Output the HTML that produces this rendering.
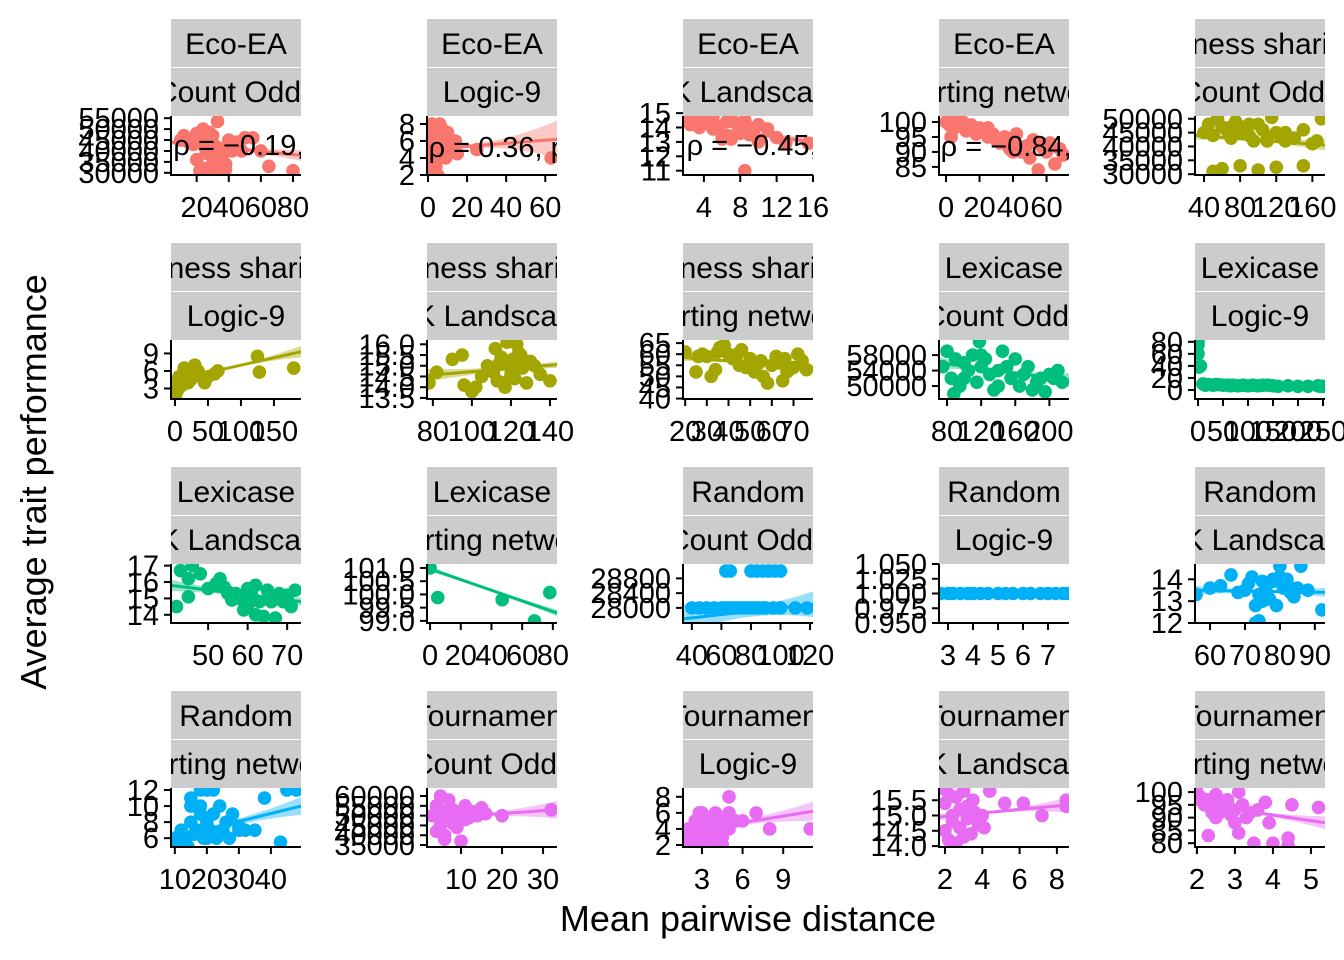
<!DOCTYPE html>
<html><head><meta charset="utf-8"><style>
html,body{margin:0;padding:0;background:#fff;}
svg{display:block;font-family:"Liberation Sans",Arial,sans-serif;}
</style></head><body>
<svg id="chart" width="1344" height="960" viewBox="0 0 1344 960" xmlns="http://www.w3.org/2000/svg">
<text x="748" y="931" font-size="36" text-anchor="middle">Mean pairwise distance</text>
<text transform="translate(46,482) rotate(-90)" font-size="36" text-anchor="middle">Average trait performance</text>
</svg>
<script>
const methods=["Eco-EA","Eco-EA","Eco-EA","Eco-EA","Fitness sharing","Fitness sharing","Fitness sharing","Fitness sharing","Lexicase","Lexicase","Lexicase","Lexicase","Random","Random","Random","Random","Tournament","Tournament","Tournament","Tournament"];
const problems=["Count Odds","Logic-9","NK Landscape","Sorting network","Count Odds","Logic-9","NK Landscape","Sorting network","Count Odds","Logic-9","NK Landscape","Sorting network","Count Odds","Logic-9","NK Landscape","Sorting network","Count Odds","Logic-9","NK Landscape","Sorting network"];
const colors=["#F8766D","#F8766D","#F8766D","#F8766D","#A3A500","#A3A500","#A3A500","#A3A500","#00BF7D","#00BF7D","#00BF7D","#00BF7D","#00B0F6","#00B0F6","#00B0F6","#00B0F6","#E76BF3","#E76BF3","#E76BF3","#E76BF3"];
const xDomains=[[4,85],[-0.5,66],[1.7,16],[-4.2,73.4],[30,174],[-6,191],[77,143.6],[19,79],[70.6,223],[-6,254],[40.6,73.5],[-2,82.7],[34,122],[2.64,7.84],[55.7,92.9],[8.8,49.4],[1.7,33.4],[1.6,11.2],[1.68,8.65],[1.95,5.37]];
const yDomains=[[29000,56000],[2,8.94],[10.7,14.8],[82.3,102],[29700,51000],[1.2,11.3],[13.45,16.2],[39.8,66.4],[46650,61900],[-15,83],[13.5,17.1],[98.92,101.15],[27590,29190],[0.95,1.05],[12,14.7],[4.9,12.25],[34000,64100],[1.75,9.1],[13.97,15.9],[78.5,101.6]];
const xTicks=[[20,40,60,80],[0,20,40,60],[4,8,12,16],[0,20,40,60],[40,80,120,160],[0,50,100,150],[80,100,120,140],[20,30,40,50,60,70],[80,120,160,200],[0,50,100,150,200,250],[50,60,70],[0,20,40,60,80],[40,60,80,100,120],[3,4,5,6,7],[60,70,80,90],[10,20,30,40],[10,20,30],[3,6,9],[2,4,6,8],[2,3,4,5]];
const yTicks=[[30000,35000,40000,45000,50000,55000],[2,4,6,8],[11,12,13,14,15],[85,90,95,100],[30000,35000,40000,45000,50000],[3,6,9],[13.5,14.0,14.5,15.0,15.5,16.0],[40,45,50,55,60,65],[50000,54000,58000],[0,20,40,60,80],[14,15,16,17],[99.0,99.5,100.0,100.5,101.0],[28000,28400,28800],[0.950,0.975,1.000,1.025,1.050],[12,13,14],[6,8,10,12],[35000,40000,45000,50000,55000,60000],[2,4,6,8],[14.0,14.5,15.0,15.5],[80,85,90,95,100]];
const yTickDigits=[0,0,0,0,0,0,1,0,0,0,0,1,0,3,0,0,0,0,1,0];
const pointsX=[
[10,12,15,18,20,22,24,25,26,27,28,30,30,32,33,35,36,38,40,42,45,48,50,55,60,65,80,20,25,30,35,15,28,34,38,22],
[0,1,2,2,3,4,5,5,6,7,8,9,10,12,14,15,3,1,4,6,8,10,25,63,2,0,5,11,7],
[2,2.5,3,3.5,4,4.5,5,5.5,6,6.5,7,7.5,8,8.5,9,9.5,10,11,12,13,15.5,3,5,7,9,6,8,4,10,8.5],
[0,2,4,5,8,10,12,15,18,20,22,25,28,30,32,35,38,40,42,45,48,50,52,55,58,60,62,65,68,70,10,25,40,55,3],
[40,45,50,55,60,65,70,75,80,85,90,95,100,105,110,115,120,125,130,140,150,160,170,50,60,80,100,120,150,70,90,130,165,110],
[0,1,2,3,5,5,8,10,10,12,15,15,18,20,20,22,25,28,30,35,40,45,60,65,125,128,180,2,6,14,24,32,50],
[78,82,90,95,96,100,102,105,108,110,112,113,115,116,118,119,120,121,122,123,125,126,128,130,132,135,140,117,124,111,114],
[20,25,28,30,32,35,36,38,40,42,44,45,48,50,52,55,56,58,60,62,64,65,66,68,70,72,74,76,26,34,46,54,67],
[75,80,85,90,95,100,105,110,115,118,120,125,130,135,140,145,150,155,160,165,170,175,180,185,190,195,200,205,210,215,100,140,120,88],
[0,0,0,2,5,10,20,30,40,50,60,70,80,90,100,110,120,140,150,160,180,200,220,240,245,250,15,35,65,130],
[42,43,45,46,48,50,52,53,54,55,56,57,58,59,60,60,61,62,63,64,65,66,67,68,69,70,71,72,45,58,62,66,70,55],
[0,5,47,78,68],
[40,45,50,55,60,62,65,68,70,72,75,78,80,82,85,88,90,95,100,110,118,63,66,80,84,88,92,96,100],
[2.7,3.0,3.2,3.5,3.8,4.0,4.3,4.6,5.0,5.3,5.6,6.0,6.3,6.7,7.0,7.3,7.6,7.8],
[56,60,63,66,68,70,71,72,73,74,75,76,77,78,79,80,81,82,83,84,85,86,88,92,73,75,78,80,74,82],
[9,10,11,12,13,14,15,15,16,17,18,18,19,20,20,21,22,23,24,25,26,27,28,30,32,35,15,18,20,22,45,48,43,38,30,12],
[3,4,5,5,6,6,7,7,8,8,9,9,10,10,11,12,13,14,15,16,20,32,4,6,8,11],
[2,2,2.5,2.5,3,3,3,3.5,3.5,4,4,4,4.5,4.5,5,5,5,5.5,2,3,4,7,8,11,3.5,4.5,6,2.8,3.8],
[1.8,2,2,2.2,2.2,2.4,2.4,2.6,2.6,2.8,2.8,3,3,3.2,3.2,3.4,3.6,3.8,4,4.4,5.2,6.2,7.2,8.5,8.5,2.5,3.5,4.1],
[2,2.1,2.2,2.3,2.4,2.5,2.5,2.6,2.7,2.8,2.9,3,3,3.1,3.2,3.3,3.4,3.5,3.6,3.8,4,4.4,4.5,5.2,2.3,3.9,4.4,3.1,2.6,2.8]];
const pointsY=[
[45000,47000,44000,43000,48000,46000,50000,42000,39000,31000,44000,47000,34000,42000,53500,41000,38000,31500,45000,40000,44000,40000,46000,46000,40000,33000,31000,36000,32000,37000,30500,44500,48500,41000,34000,31000],
[2,3,5,8,7,6,4,2,7,5,6,4,5,6,6,4.5,4,6,3,8,5,7,5,4,6.5,4,6,5,7.5],
[14.5,14.2,14.8,14.0,14.6,14.3,14.8,14.1,13.5,14.4,13.2,14.3,13.6,11,14.0,13.8,14.2,13.9,13.3,12.9,12.9,14.7,13.9,14.6,13.5,13.2,14.1,14.4,13.0,14.5],
[100,99,101,98,100,99,97,99,96,98,97,95,96,94,93,95,91,93,96,90,92,88,94,84,91,90,93,86,91,89,100,98,90,93,95],
[45000,48000,44000,50000,47000,46000,43000,49000,45000,47000,44000,42000,48000,46000,43000,50500,45000,44000,42000,43000,46000,41000,50000,31000,32000,33000,31500,32500,33000,47000,48000,45000,42000,42000],
[1.5,2,3,2.5,4,3,4.5,5,3.5,4,6,4,5,5.5,4,6,5,5.5,7,6,5,4,5.5,6,8.5,5.8,6.5,4,5,6.5,4.5,6,5],
[14.2,14.7,15.3,15.5,14.1,13.8,14.0,14.5,15.0,14.8,15.8,14.3,15.4,14.2,16.1,15.0,14.6,15.3,14.4,16.0,15.5,14.9,14.2,15.2,15.0,14.6,14.3,14.0,15.6,14.7,15.1],
[61,52,60,59,50,61,63,64,60,58,60,55,54,58,52,57,50,47,55,59,56,48,58,53,54,60,57,53,59,53,62,56,52],
[55000,59000,52000,57000,50000,56000,54000,58000,51000,61500,55000,57000,53000,49000,54000,59000,55000,52000,57000,50000,53000,55000,49000,51000,52000,48500,53000,52000,54000,51000,52000,50000,58000,48000],
[80,75,60,38,40,10,9,8,9,8,8,8,7,8,7,8,7,8,7,6,7,6,6,7,6,6,8,9,7,8],
[14.5,16.7,15.1,17,16.5,15.6,15.9,16.2,15.7,15.4,14.9,15.3,15.0,14.3,15.6,14.5,15.2,15.8,14.8,13.9,15.5,15.0,13.8,15.3,14.8,15.2,14.5,15.5,16.2,15.1,14.0,14.8,15.0,15.3],
[101,99.88,99.8,100.07,99.0],
[28000,28000,28000,28000,28000,28000,28000,28000,28000,28000,28000,28000,28000,28000,28000,28000,28000,28000,28000,28000,28000,29000,29000,29000,29000,29000,29000,29000,29000],
[1,1,1,1,1,1,1,1,1,1,1,1,1,1,1,1,1,1],
[13.3,13.6,13.7,14.2,13.4,13.5,13.8,14.1,12.8,12.1,13.9,13.5,13.1,13.9,12.8,14.1,13.6,14.0,13.4,13.2,13.6,14.6,13.5,12.6,12.0,13.0,14.0,14.6,13.3,13.8],
[5,6,5.5,7,6,5,8,11,6.5,7,9,12,6,8,12,7,9,6,10,7,8,6,9,7,7,7,10,10,6,12,12,12,5.5,11,7.5,5],
[50000,55000,45000,60000,52000,40000,58000,48000,47000,53000,44000,50000,51000,37000,55000,49000,52000,50000,54000,51000,50000,53000,42000,38000,46000,48000],
[2,4,3,5,2,4,6,3,5,2,4,6,3,5,4,6,8,5,3,2,3,6,4,4,4,2,5,6,5],
[15.9,15.4,14.5,15.7,14.2,15.0,14.8,15.6,14.1,15.2,14.6,15.8,14.3,14.9,15.3,14.4,15.1,14.7,15.0,15.8,15.4,15.4,15.0,15.5,15.3,14.0,15.5,14.6],
[100,98,95,97,92,99,90,96,94,97,91,93,88,100,95,90,92,80,93,96,80,82,95,94,83,88,79,84,92,96]];
const fitStart=[44000,5.0,14.2,99.5,44000,4.3,14.55,58.5,56000,10,15.8,101.0,27700,1,13.5,6.0,48500,3.6,14.95,95.5];
const fitEnd=[38000,6.2,13.0,89.5,40500,9.3,15.05,54,51500,3,14.8,99.3,28100,1,13.4,10.0,53000,6.2,15.35,88];
const fitCenterX=[30,8,7,30,100,20,115,50,140,100,60,40,80,5,76,20,9,4,3,2.7];
const ciHalf=[[1200,700,2500],[0.5,0.3,2.2],[0.25,0.12,0.35],[0.8,0.4,1.2],[1500,600,2000],[0.4,0.2,1.0],[0.3,0.1,0.15],[1.5,0.6,1.5],[1500,500,1800],[1.5,0.7,3],[0.35,0.12,0.25],[0.1,0.05,0.12],[400,150,350],[0,0,0],[0.2,0.08,0.2],[0.5,0.3,1.1],[1500,800,4500],[0.3,0.2,1.2],[0.12,0.06,0.25],[1.2,0.6,2.5]];
const rhoPanels=[0,1,2,3];
const rhoText=["ρ = −0.19, p = 0.08","ρ = 0.36, p = 0.01","ρ = −0.45, p < 0.001","ρ = −0.84, p < 0.001"];
const rhoX=[5.5,0.3,2.1,-3.2];
const rhoY=[42700,5.3,12.8,92];

const NS="http://www.w3.org/2000/svg";
const svg=document.getElementById("chart");
function mk(tag,attrs,parent){const e=document.createElementNS(NS,tag);for(const k in attrs)e.setAttribute(k,attrs[k]);(parent||svg).appendChild(e);return e;}
const PW=130,PH=59;
const defs=mk("defs",{});
for(let i=0;i<20;i++){
  const r=Math.floor(i/5),c=i%5;
  const x0=171+256*c, sTop=19+224*r, pTop=sTop+97, pBot=pTop+PH;
  const xd=xDomains[i], yd=yDomains[i];
  const sx=v=>x0+(v-xd[0])/(xd[1]-xd[0])*PW;
  const sy=v=>pBot-(v-yd[0])/(yd[1]-yd[0])*PH;
  const g=mk("g",{});
  
  
  const cp=mk("clipPath",{id:"sc"+i},defs);
  mk("rect",{x:x0,y:sTop,width:PW,height:97},cp);
  const labels=[methods[i],problems[i]];
  for(let k=0;k<2;k++){
    const sr=mk("rect",{x:x0,y:sTop+48*k+(k?1:0),width:PW,height:48,fill:"#cccccc"},g);
    
    
    const st=mk("text",{x:x0+PW/2,y:sTop+48*k+35,"font-size":30,"text-anchor":"middle","clip-path":"url(#sc"+i+")"},g);
    st.textContent=labels[k];
    
    
  }
  const pc=mk("clipPath",{id:"pc"+i},defs);
  mk("rect",{x:x0,y:pTop,width:PW,height:PH},pc);
  const pg=mk("g",{"clip-path":"url(#pc"+i+")"},g);
  const col=colors[i];
  pointsX[i].forEach((xv,j)=>{
    const p=mk("circle",{cx:sx(xv),cy:sy(pointsY[i][j]),r:6.8,fill:col},pg);
    
    
  });
  const xa=xd[0],xb=xd[1],xc=fitCenterX[i],h=ciHalf[i];
  const half=x=>h[0]*(x-xc)*(x-xb)/((xa-xc)*(xa-xb))+h[1]*(x-xa)*(x-xb)/((xc-xa)*(xc-xb))+h[2]*(x-xa)*(x-xc)/((xb-xa)*(xb-xc));
  const fy=x=>fitStart[i]+(fitEnd[i]-fitStart[i])*(x-xa)/(xb-xa);
  let up=[],lo=[];
  for(let s=0;s<=40;s++){const x=xa+(xb-xa)*s/40;const hw=Math.max(0,half(x));up.push(sx(x)+","+sy(fy(x)+hw));lo.unshift(sx(x)+","+sy(fy(x)-hw));}
  const band=mk("polygon",{points:up.concat(lo).join(" "),fill:col,"fill-opacity":0.4},pg);
  
  
  const ln=mk("line",{x1:sx(xa),y1:sy(fitStart[i]),x2:sx(xb),y2:sy(fitEnd[i]),stroke:col,"stroke-width":3},pg);
  
  
  const ri=rhoPanels.indexOf(i);
  if(ri>=0){
    const t=mk("text",{x:sx(rhoX[ri]),y:sy(rhoY[ri])+10,"font-size":29},pg);
    t.textContent=rhoText[ri];
    
    
  }
  const ax=mk("g",{stroke:"#000","stroke-width":2},g);
  
  
  mk("line",{x1:x0,y1:pTop,x2:x0,y2:pBot+1},ax);
  mk("line",{x1:x0-1,y1:pBot,x2:x0+PW,y2:pBot},ax);
  xTicks[i].forEach(v=>{
    const X=sx(v);
    mk("line",{x1:X,y1:pBot,x2:X,y2:pBot+7},ax);
    const t=mk("text",{x:X,y:pBot+42,"font-size":29,"text-anchor":"middle"},g);
    t.textContent=v;
    
    
  });
  yTicks[i].forEach(v=>{
    const Y=sy(v);
    mk("line",{x1:x0-7,y1:Y,x2:x0,y2:Y},ax);
    const t=mk("text",{x:x0-12,y:Y+10,"font-size":29,"text-anchor":"end"},g);
    t.textContent=v.toFixed(yTickDigits[i]);
    
    
  });
}
</script>
</body></html>
